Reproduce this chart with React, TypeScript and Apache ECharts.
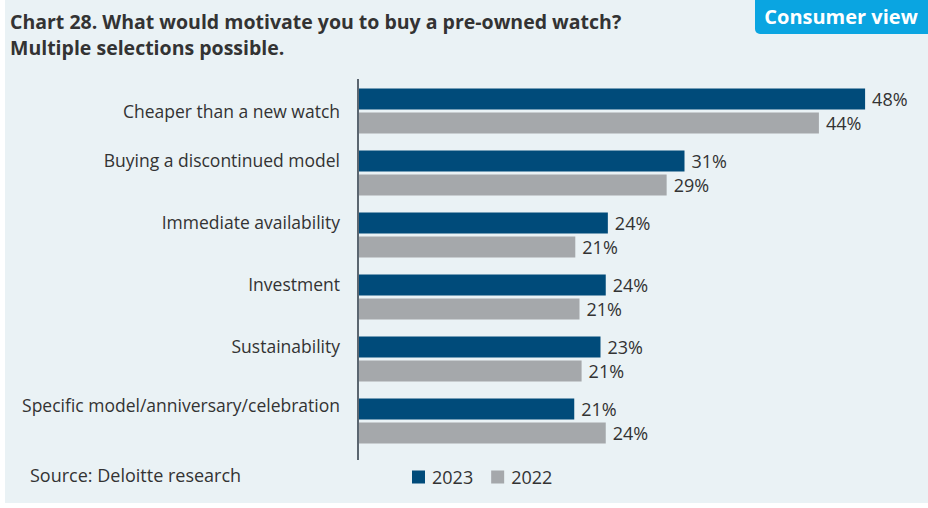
import React, { useEffect, useRef } from "react";
import * as echarts from "echarts";

const categories = [
  "Cheaper than a new watch",
  "Buying a discontinued model",
  "Immediate availability",
  "Investment",
  "Sustainability",
  "Specific model/anniversary/celebration",
];
const values2023 = [48.2, 31.0, 23.7, 23.5, 23.0, 20.5];
const values2022 = [43.8, 29.3, 20.6, 21.0, 21.2, 23.5];
const seriesNames = ["2023", "2022"];

const TEXT = "#333333";
const FONT = "'Open Sans', 'Noto Sans', sans-serif";

export default function App() {
  const ref = useRef<HTMLDivElement>(null);

  useEffect(() => {
    document.body.style.margin = "0";
    const chart = echarts.init(ref.current!, null, { renderer: "svg" });
    const labelStyle = {
      show: true,
      position: "right" as const,
      distance: 7,
      color: TEXT,
      fontSize: 18,
      fontFamily: FONT,
      formatter: (p: any) => Math.round(p.value) + "%",
    };
    chart.setOption({
      animation: false,
      backgroundColor: "#ffffff",
      textStyle: { fontFamily: FONT },
      title: {
        text: "Chart 28. What would motivate you to buy a pre-owned watch?\nMultiple selections possible.",
        left: 5,
        top: 3,
        textStyle: {
          fontSize: 19.5,
          fontWeight: "bold",
          color: TEXT,
          fontFamily: FONT,
          lineHeight: 26,
        },
      },
      legend: {
        data: seriesNames,
        left: 407,
        top: 463,
        itemWidth: 13,
        itemHeight: 13,
        itemGap: 18,
        icon: "rect",
        textStyle: { color: TEXT, fontSize: 18, fontFamily: FONT, padding: [0, 0, 0, 2] },
      },
      grid: { left: 359, top: 80, height: 372, right: 44, containLabel: false },
      xAxis: {
        type: "value",
        min: 0,
        max: 50,
        show: false,
      },
      yAxis: {
        type: "category",
        inverse: true,
        data: categories,
        axisLine: { show: false },
        axisTick: { show: false },
        axisLabel: {
          margin: 19,
          color: TEXT,
          fontSize: 17.5,
          fontFamily: FONT,
          formatter: (v: string, i: number) =>
            i === 0 ? "{c|" + v + "}" : i === 5 ? "{w|" + v + "}" : "{u|" + v + "}",
          rich: {
            c: { color: TEXT, fontSize: 17.5, fontFamily: FONT },
            u: { color: TEXT, fontSize: 17.5, fontFamily: FONT, padding: [0, 0, 26, 0] },
            w: { color: TEXT, fontSize: 17.5, fontFamily: FONT, padding: [0, 0, 32, 0] },
          },
        },
      },
      series: [
        {
          name: seriesNames[0],
          type: "bar",
          data: values2023,
          barWidth: 21,
          barGap: "14%",
          itemStyle: { color: "#004B7A" },
          label: labelStyle,
        },
        {
          name: seriesNames[1],
          type: "bar",
          data: values2022,
          barWidth: 21,
          barGap: "14%",
          itemStyle: { color: "#A5A8AB" },
          label: labelStyle,
        },
      ],
      graphic: [
        {
          type: "rect",
          z: -10,
          shape: { x: 5, y: 0, width: 923, height: 503 },
          style: { fill: "#EAF2F5" },
        },
        {
          type: "rect",
          z: 10,
          shape: { x: 755, y: 0, width: 173, height: 34, r: [0, 0, 0, 5] },
          style: { fill: "#0AA5E1" },
        },
        {
          type: "text",
          z: 11,
          x: 841,
          y: 16,
          style: {
            text: "Consumer view",
            fill: "#ffffff",
            fontSize: 20,
            fontWeight: "bold",
            fontFamily: FONT,
            align: "center",
            verticalAlign: "middle",
          },
        },
        {
          type: "line",
          z: 5,
          shape: { x1: 358, y1: 79, x2: 358, y2: 460 },
          style: { stroke: "#5B6670", lineWidth: 2 },
        },
        {
          type: "text",
          x: 30,
          y: 475,
          style: {
            text: "Source: Deloitte research",
            fill: TEXT,
            fontSize: 18,
            fontFamily: FONT,
            verticalAlign: "middle",
          },
        },
      ],
    });
    return () => chart.dispose();
  }, []);

  return <div ref={ref} style={{ width: 928, height: 508 }} />;
}
